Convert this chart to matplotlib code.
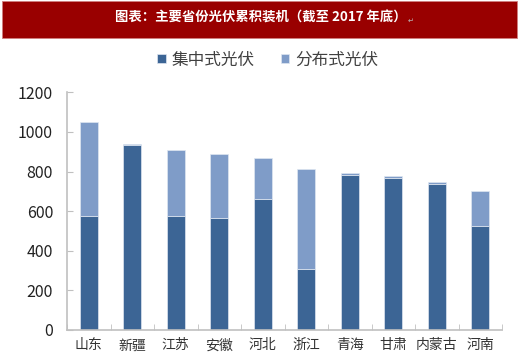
import matplotlib.pyplot as plt
import numpy as np
from matplotlib.patches import Rectangle

plt.rcParams['font.family'] = ['Noto Sans CJK SC', 'DejaVu Sans']

provinces = ['山东', '新疆', '江苏', '安徽', '河北', '浙江', '青海', '甘肃', '内蒙古', '河南']
total = [1052, 940, 907, 887, 866, 812, 792, 779, 747, 701]
centralized = [578, 932, 578, 566, 659, 310, 785, 767, 738, 526]
distributed = [t - c for t, c in zip(total, centralized)]

title = '图表：主要省份光伏累积装机（截至 2017 年底）'
labels = ['集中式光伏', '分布式光伏']
dark_blue = '#3c6595'
light_blue = '#7f9cc8'
axis_gray = '#c0c0c0'

fig = plt.figure(figsize=(5.2, 3.59), dpi=100)

# title banner
fig.patches.append(Rectangle((2 / 520, 1 - 38 / 359), 515 / 520, 37 / 359,
                             transform=fig.transFigure, facecolor='#990000',
                             edgecolor='#d08080', linewidth=0.6))
fig.text(261 / 520, 1 - 18 / 359, title, color='white', fontsize=9.6, fontweight='bold',
         ha='center', va='center')
fig.text(411 / 520, 1 - 21 / 359, '↵', color='#bbbbbb', fontsize=5, ha='center', va='center')

ax = fig.add_axes([67 / 520, 1 - 330 / 359, 435 / 520, (330 - 92.3) / 359])
x = np.arange(len(provinces))
b1 = ax.bar(x, centralized, width=0.42, color=dark_blue, edgecolor='#dfe6f0', linewidth=0.5,
            label=labels[0])
b2 = ax.bar(x, distributed, width=0.42, bottom=centralized, color=light_blue,
            edgecolor='#dfe6f0', linewidth=0.5, label=labels[1])

ax.set_xlim(-0.5, len(provinces) - 0.5)
ax.set_ylim(0, 1200)
ax.set_yticks(range(0, 1201, 200))
ax.set_xticks(x)
ax.set_xticklabels(provinces, fontsize=10, color='#333333')
ax.set_xticks(np.arange(-0.5, len(provinces), 1), minor=True)
ax.tick_params(axis='x', which='major', length=0, pad=6)
ax.tick_params(axis='x', which='minor', direction='in', length=4, color=axis_gray)
ax.tick_params(axis='y', direction='in', length=4, color=axis_gray, labelsize=11.5,
               labelcolor='#222222', pad=10)
for s in ['top', 'right']:
    ax.spines[s].set_visible(False)
for s in ['left', 'bottom']:
    ax.spines[s].set_color(axis_gray)
    ax.spines[s].set_linewidth(1.2)

fig.legend(handles=[b1, b2], loc='center', bbox_to_anchor=(0.515, 1 - 60 / 359), ncol=2,
           frameon=False, fontsize=12, handlelength=0.5, handleheight=0.5,
           handletextpad=0.35, columnspacing=1.6, labelcolor='#404040')

fig.savefig('out.png', dpi=100)
